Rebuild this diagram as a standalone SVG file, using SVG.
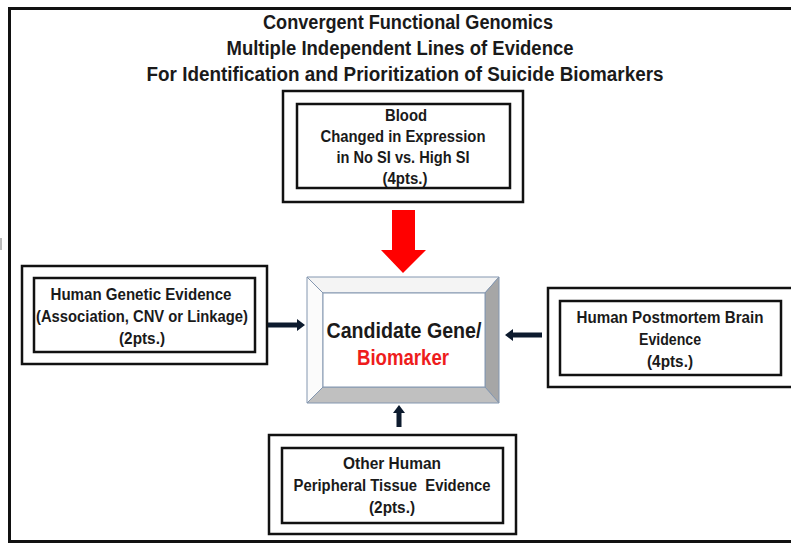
<svg xmlns="http://www.w3.org/2000/svg" width="791" height="544" viewBox="0 0 791 544">
<defs>
<style>
.t{font-family:"Liberation Sans",Arial,sans-serif;font-weight:bold;fill:#1a1a1a;text-anchor:middle}
.title{font-size:20px}
.box{font-size:16px}
.ctr{font-size:22px}
.outer{fill:#fff;stroke:#111;stroke-width:2.5}
.inner{fill:#fff;stroke:#111;stroke-width:2.5}
.bev{stroke:#8497b0;stroke-width:1;stroke-linejoin:round}
.conn{fill:#0d1b2e}
</style>
</defs>
<rect x="0" y="0" width="791" height="544" fill="#fff"/>
<path d="M9.5 543 V8.5 H791 M9.5 541.5 H791" fill="none" stroke="#111" stroke-width="3"/>
<rect x="0" y="238" width="2" height="12" fill="#bbb"/>
<g id="title">
<text class="t title" x="408" y="29" textLength="290" lengthAdjust="spacingAndGlyphs">Convergent Functional Genomics</text>
<text class="t title" x="400" y="55" textLength="347" lengthAdjust="spacingAndGlyphs">Multiple Independent Lines of Evidence</text>
<text class="t title" x="405" y="81" textLength="517" lengthAdjust="spacingAndGlyphs">For Identification and Prioritization of Suicide Biomarkers</text>
</g>
<g id="blood">
<rect class="outer" x="283" y="91" width="240" height="111"/>
<rect class="inner" x="297" y="104" width="213" height="84"/>
<text class="t box" x="406" y="121" textLength="42" lengthAdjust="spacingAndGlyphs">Blood</text>
<text class="t box" x="403" y="142" textLength="165" lengthAdjust="spacingAndGlyphs">Changed in Expression</text>
<text class="t box" x="403" y="163" textLength="133" lengthAdjust="spacingAndGlyphs">in No SI vs. High SI</text>
<text class="t box" x="405" y="184" textLength="45" lengthAdjust="spacingAndGlyphs">(4pts.)</text>
</g>
<g id="genetic">
<rect class="outer" x="22" y="266" width="245" height="98"/>
<rect class="inner" x="34" y="278" width="221" height="74"/>
<text class="t box" x="141" y="300" textLength="181" lengthAdjust="spacingAndGlyphs">Human Genetic Evidence</text>
<text class="t box" x="142" y="322" textLength="212" lengthAdjust="spacingAndGlyphs">(Association, CNV or Linkage)</text>
<text class="t box" x="142" y="344" textLength="46" lengthAdjust="spacingAndGlyphs">(2pts.)</text>
</g>
<g id="brain">
<rect class="outer" x="548" y="288" width="246" height="99"/>
<rect class="inner" x="560" y="301" width="221" height="74"/>
<text class="t box" x="670" y="323" textLength="187" lengthAdjust="spacingAndGlyphs">Human Postmortem Brain</text>
<text class="t box" x="670" y="345" textLength="62" lengthAdjust="spacingAndGlyphs">Evidence</text>
<text class="t box" x="670" y="367" textLength="46" lengthAdjust="spacingAndGlyphs">(4pts.)</text>
</g>
<g id="peripheral">
<rect class="outer" x="269" y="435" width="247" height="99"/>
<rect class="inner" x="282" y="448" width="221" height="75"/>
<text class="t box" x="392" y="469" textLength="98" lengthAdjust="spacingAndGlyphs">Other Human</text>
<text class="t box" x="392" y="491" textLength="197" lengthAdjust="spacingAndGlyphs" xml:space="preserve">Peripheral Tissue  Evidence</text>
<text class="t box" x="392" y="513" textLength="46" lengthAdjust="spacingAndGlyphs">(2pts.)</text>
</g>
<g id="candidate">
<polygon class="bev" points="307,277 499,277 485,293 323,293" fill="#f4f4f4"/>
<polygon class="bev" points="307,277 323,293 323,387 307,403" fill="#fbfbfb"/>
<polygon class="bev" points="499,277 499,403 485,387 485,293" fill="#a6a6a6"/>
<polygon class="bev" points="307,403 323,387 485,387 499,403" fill="#c0c0c0"/>
<rect class="bev" x="323" y="293" width="162" height="94" fill="#fff"/>
<text class="t ctr" x="404" y="338" textLength="155" lengthAdjust="spacingAndGlyphs">Candidate Gene/</text>
<text class="t ctr" x="403" y="365" style="fill:#ee1c1c" textLength="92" lengthAdjust="spacingAndGlyphs">Biomarker</text>
</g>
<g id="connectors">
<polygon points="392,210 415,210 415,250 426,250 403,273 381,250 392,250" fill="#ff0000"/>
<polygon class="conn" points="268,322.5 297,322.5 297,319 305,325 297,331 297,327.5 268,327.5"/>
<polygon class="conn" points="542,332.5 513,332.5 513,329 505,335 513,341 513,337.5 542,337.5"/>
<polygon class="conn" points="396.5,427 396.5,413 393,413 399,405 405,413 401.5,413 401.5,427"/>
</g>
</svg>
